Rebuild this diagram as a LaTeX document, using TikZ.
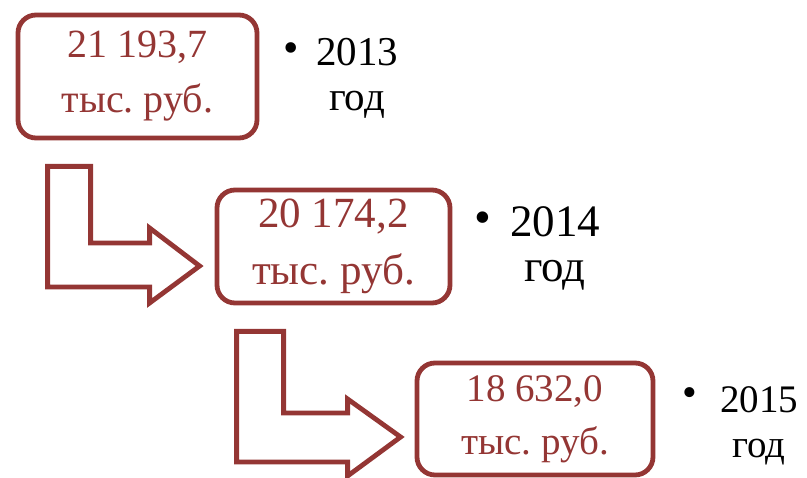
\documentclass[tikz,border=0pt]{standalone}
\usepackage{fontspec}
\setmainfont{Liberation Serif}
\usepackage{xcolor}
\usepackage{tikz}
\usetikzlibrary{calc}
\definecolor{boxred}{RGB}{148,54,52}
\frenchspacing

\begin{document}
\begin{tikzpicture}[
  x=1pt, y=-1pt,
  amount/.style={rectangle, rounded corners=18pt, draw=boxred, line width=4.8pt, text=boxred, align=center, inner sep=0pt},
  yearlabel/.style={align=center, inner sep=0pt},
  dot/.style={inner sep=0pt},
  bentarrow/.style={draw=boxred, line width=4.8pt, line join=miter}
]
\useasboundingbox (0,0) rectangle (807,478);

\node[amount, minimum width=239pt, minimum height=123pt, font=\fontsize{40}{55}\selectfont] (amount13) at (137.5,76.5) {21 193,7\\тыс. руб.};
\node[amount, minimum width=233pt, minimum height=113pt, font=\fontsize{43}{57}\selectfont] (amount14) at (333.5,246.5) {20 174,2\\тыс. руб.};
\node[amount, minimum width=236pt, minimum height=112pt, font=\fontsize{39}{53}\selectfont] (amount15) at (535,419) {18 632,0\\тыс. руб.};

\node[yearlabel, font=\fontsize{41}{45}\selectfont] (year13) at (357,78.5) {2013\\год};
\node[yearlabel, font=\fontsize{45}{45}\selectfont] (year14) at (555,248) {2014\\год};
\node[yearlabel, font=\fontsize{39}{45}\selectfont] (year15) at (759,425.5) {2015\\год};

\node[dot, font=\fontsize{44}{45}\selectfont] (dot13) at (291,53) {\textbullet};
\node[dot, font=\fontsize{48}{45}\selectfont] (dot14) at (483,223) {\textbullet};
\node[dot, font=\fontsize{42}{45}\selectfont] (dot15) at (690,397) {\textbullet};

% bent block arrows
\coordinate (tip14) at ($(amount14.west)+(-15,19.5)$);
\draw[bentarrow] ($(amount13.south west)+(32,26)$) coordinate (bend13) -- ++(43,0)
  |- ($(tip14)+(-50,-23)$) -- ++(0,-15) -- (tip14) -- ++(-50,37) -- ++(0,-16) -| (bend13) -- cycle;

\coordinate (tip15) at ($(amount15.west)+(-14,18)$);
\draw[bentarrow] ($(amount14.south west)+(22,26)$) coordinate (bend14) -- ++(47,0)
  |- ($(tip15)+(-53,-24)$) -- ++(0,-14) -- (tip15) -- ++(-53,39) -- ++(0,-14) -| (bend14) -- cycle;
\end{tikzpicture}
\end{document}
